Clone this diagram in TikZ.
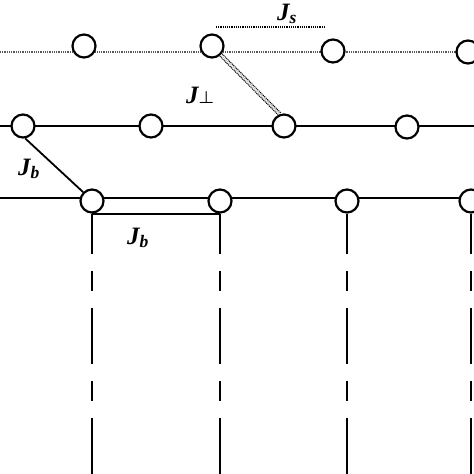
\documentclass[tikz,border=0pt]{standalone}
\usepackage{amsmath}
\usepackage{fontspec}
\setmainfont{Liberation Serif}
\usepackage{tikz}
\usetikzlibrary{backgrounds}
\usetikzlibrary{scopes}

\tikzset{
  site/.style={circle, draw, fill=white, line width=2.2pt, minimum size=23pt, inner sep=0pt},
  lbl/.style={font=\fontsize{25}{28}\selectfont\bfseries\itshape, inner sep=0pt},
  leg/.style={line width=2pt, dash pattern=on 56pt off 17pt on 20pt off 17pt, dash phase=16pt},
  chain/.style={gray!70!black, line width=1.6pt, dash pattern=on 1pt off 0.8pt},
}

\begin{document}
\begin{tikzpicture}[x=1pt, y=-1pt]
\useasboundingbox (0, 0) rectangle (474, 474);
\clip (0, 0) rectangle (474, 474);
\coordinate (tl) at (0, 52);
\coordinate (tr) at (474, 52);
\coordinate (ml) at (0, 126);
\coordinate (mr) at (474, 126);
\coordinate (bl) at (0, 198);
\coordinate (br) at (474, 198);
\coordinate (sa) at (216, 27);
\coordinate (sb) at (325, 27);
\coordinate (floor) at (0, 474);

\node[site] (t1) at (84, 46) {};
\node[site] (t2) at (212, 46) {};
\node[site] (t3) at (333, 51) {};
\node[site] (t4) at (468, 52) {};
\node[site] (m1) at (23, 126) {};
\node[site] (m2) at (151, 126) {};
\node[site] (m3) at (284, 126) {};
\node[site] (m4) at (407, 127) {};
\node[site] (b1) at (92, 201) {};
\node[site] (b2) at (220, 201) {};
\node[site] (b3) at (347, 201) {};
\node[site] (b4) at (471, 201) {};

\begin{scope}[on background layer]
\draw[chain] (tl) -- (tr);
\draw[line width=2.2pt] (ml) -- (mr);
\draw[line width=1.8pt] (bl) -- (br);
\end{scope}

\draw[line width=1.6pt, dash pattern=on 1.2pt off 1pt] (sa) -- (sb);
\draw[line width=1pt, double, double distance=2.2pt, dash pattern=on 1.2pt off 0.8pt] (t2.-45) -- (m3.110);
\draw[line width=1.8pt] (m1.280) -- (b1.135);
\draw[line width=1.8pt] (b1.south) -- (b2.south);
\draw[leg] (b1.south) -- (b1.south |- floor);
\draw[leg] (b2.south) -- (b2.south |- floor);
\draw[leg] (b3.south) -- (b3.south |- floor);
\draw[leg] (b4.south) -- (b4.south |- floor);

\node[lbl] (js) at (287, 14) {J\textsubscript{s}};
\node[lbl] (jp) at (200, 95) {J{\fontsize{19}{19}\selectfont$\boldsymbol{\perp}$}};
\node[lbl] (jb1) at (29, 169) {J\textsubscript{b}};
\node[lbl] (jb2) at (138, 238) {J\textsubscript{b}};
\end{tikzpicture}
\end{document}
